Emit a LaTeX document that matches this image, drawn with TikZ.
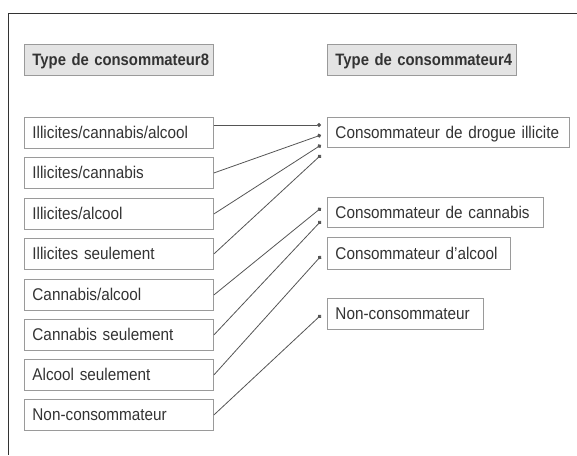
\documentclass[tikz,border=0pt]{standalone}
\usepackage{fontspec}
\setmainfont{Liberation Sans}[FakeStretch=0.9]
\usetikzlibrary{arrows.meta}
\definecolor{txt}{HTML}{333333}
\definecolor{bord}{HTML}{9A9A9A}
\definecolor{hdr}{HTML}{E4E4E4}
\definecolor{lnk}{HTML}{555555}
\tikzset{
  box/.style={draw=bord, line width=0.9pt, anchor=north west, inner xsep=8pt, inner ysep=0pt,
    align=left, font=\fontsize{17}{20}\selectfont, text=txt, minimum height=#1,
    text height=14pt, text depth=2pt},
  box/.default=31pt,
  hbox/.style={box, fill=hdr, font=\fontsize{16.5}{20}\selectfont\bfseries},
  conn/.style={draw=lnk, line width=0.8pt, -{Circle[length=4pt]}},
}
\begin{document}
\begin{tikzpicture}[x=1pt,y=-1pt]
\useasboundingbox (0,0) rectangle (577,455);
\draw[draw=txt, line width=1pt] (577,13) -- (8,13) -- (8,455);
% left column
\node[hbox, text width=173pt] (lh) at (24,44) {\mbox{Type de consommateur8}};
\node[box, text width=173pt] (l1) at (24,117) {Illicites/cannabis/alcool};
\node[box, text width=173pt] (l2) at (24,157) {Illicites/cannabis};
\node[box, text width=173pt] (l3) at (24,198) {Illicites/alcool};
\node[box, text width=173pt] (l4) at (24,238) {Illicites seulement};
\node[box, text width=173pt] (l5) at (24,279) {Cannabis/alcool};
\node[box, text width=173pt] (l6) at (24,319) {Cannabis seulement};
\node[box, text width=173pt] (l7) at (24,359) {Alcool seulement};
\node[box, text width=173pt] (l8) at (24,399) {Non-consommateur};
% right column
\node[hbox, text width=173pt] (rh) at (327,44) {\mbox{Type de consommateur4}};
\node[box=30pt, text width=226pt] (r1) at (327,117) {Consommateur de drogue illicite};
\node[box=30pt, text width=200pt] (r2) at (327,197) {Consommateur de cannabis};
\node[box=32pt, text width=167pt] (r3) at (327,237) {Consommateur d'alcool};
\node[box=31pt, text width=140pt] (r4) at (327,298) {Non-consommateur};
% end points
\coordinate (t1) at ([xshift=-6pt,yshift=-8pt]r1.north west);
\coordinate (t2) at ([xshift=-6pt,yshift=-18pt]r1.north west);
\coordinate (t3) at ([xshift=-6pt,yshift=-28pt]r1.north west);
\coordinate (t4) at ([xshift=-6pt,yshift=-38pt]r1.north west);
\coordinate (t5) at ([xshift=-6pt,yshift=-11pt]r2.north west);
\coordinate (t6) at ([xshift=-6pt,yshift=-24pt]r2.north west);
\coordinate (t7) at ([xshift=-6pt,yshift=-19pt]r3.north west);
\coordinate (t8) at ([xshift=-6pt,yshift=-17pt]r4.north west);
\coordinate (s1) at ([yshift=-8pt]l1.north east);
\draw[conn] (s1) -- (t1);
\draw[conn] (l2.east) -- (t2);
\draw[conn] (l3.east) -- (t3);
\draw[conn] (l4.east) -- (t4);
\draw[conn] (l5.east) -- (t5);
\draw[conn] (l6.east) -- (t6);
\draw[conn] (l7.east) -- (t7);
\draw[conn] (l8.east) -- (t8);
\end{tikzpicture}
\end{document}
